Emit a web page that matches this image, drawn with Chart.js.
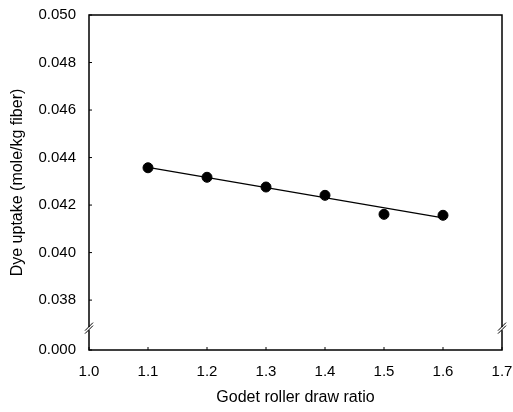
<!DOCTYPE html>
<html>
<head>
<meta charset="utf-8">
<script src="https://cdn.jsdelivr.net/npm/chart.js@4/dist/chart.umd.min.js"></script>
<style>
  html,body{margin:0;padding:0;background:#fff;}
  #wrap{width:513px;height:412px;}
</style>
</head>
<body>
<div id="wrap"><canvas id="c" width="513" height="412"></canvas></div>
<script>
// data
const drawRatio = [1.1, 1.2, 1.3, 1.4, 1.5, 1.6];
const dyeUptake = [0.04357, 0.04317, 0.04276, 0.04241, 0.04161, 0.04157];
// fitted line ends
const fitX = [1.1, 1.6];
const fitY = [0.04359, 0.04146];
// y axis (broken: bottom tick stands for zero)
const yTicks = [0.0359, 0.038, 0.040, 0.042, 0.044, 0.046, 0.048, 0.050];
const yTickLabels = ['0.000', '0.038', '0.040', '0.042', '0.044', '0.046', '0.048', '0.050'];
const yBreak = 0.0368;

const FONT = 'Liberation Sans, Arial, sans-serif';

function line(ctx, x1, y1, x2, y2){ ctx.beginPath(); ctx.moveTo(x1,y1); ctx.lineTo(x2,y2); ctx.stroke(); }

// frame, inward ticks, axis breaks
const frame = {
  id: 'frame',
  afterDraw(chart){
    const {ctx, chartArea:a, scales:{x, y}} = chart;
    ctx.save();
    ctx.strokeStyle = '#000';
    ctx.lineWidth = 1.5;
    ctx.strokeRect(a.left, a.top, a.right - a.left, a.bottom - a.top);
    ctx.lineWidth = 1;
    y.ticks.forEach(t => { const py = y.getPixelForValue(t.value); line(ctx, a.left, py, a.left + 3, py); });
    x.ticks.forEach(t => { const px = x.getPixelForValue(t.value); line(ctx, px, a.bottom, px, a.bottom - 3); });
    const by = y.getPixelForValue(yBreak);
    [a.left, a.right].forEach(ax => {
      ctx.fillStyle = '#fff';
      ctx.fillRect(ax - 2, by - 1.5, 4, 3);
      line(ctx, ax - 4, by + 2, ax + 4, by - 6);
      line(ctx, ax - 4, by + 5, ax + 4, by - 3);
    });
    ctx.restore();
  }
};

new Chart(document.getElementById('c'), {
  type: 'scatter',
  data: {
    datasets: [
      {
        data: drawRatio.map((v, i) => ({x: v, y: dyeUptake[i]})),
        backgroundColor: '#000', borderColor: '#000',
        pointRadius: 5, pointHoverRadius: 5
      },
      {
        data: fitX.map((v, i) => ({x: v, y: fitY[i]})),
        showLine: true, borderColor: '#000', borderWidth: 1.2,
        pointRadius: 0, fill: false
      }
    ]
  },
  options: {
    responsive: false,
    animation: false,
    events: [],
    layout: {padding: {top: 15, right: 11, left: 0, bottom: 0}},
    plugins: {legend: {display: false}, tooltip: {enabled: false}},
    scales: {
      x: {
        type: 'linear', min: 1.0, max: 1.7,
        grid: {display: false}, border: {display: false},
        ticks: {stepSize: 0.1, padding: 5, color: '#000', font: {family: FONT, size: 15},
                callback: v => v.toFixed(1)},
        title: {display: true, text: 'Godet roller draw ratio', color: '#000',
                font: {family: FONT, size: 16}, padding: {top: 0, bottom: 5}},
        afterFit: s => { s.height = 62; s.paddingLeft = 0; s.paddingRight = 0; }
      },
      y: {
        type: 'linear', min: 0.0359, max: 0.050,
        grid: {display: false}, border: {display: false},
        afterBuildTicks: s => { s.ticks = yTicks.map(v => ({value: v})); },
        ticks: {padding: 5, color: '#000', font: {family: FONT, size: 15},
                callback: (v, i) => yTickLabels[i]},
        title: {display: true, text: 'Dye uptake (mole/kg fiber)', color: '#000',
                font: {family: FONT, size: 16}, padding: {top: 8, bottom: 0}},
        afterFit: s => { s.width = 89; s.paddingTop = 0; s.paddingBottom = 0; }
      }
    }
  },
  plugins: [frame]
});
</script>
</body>
</html>
